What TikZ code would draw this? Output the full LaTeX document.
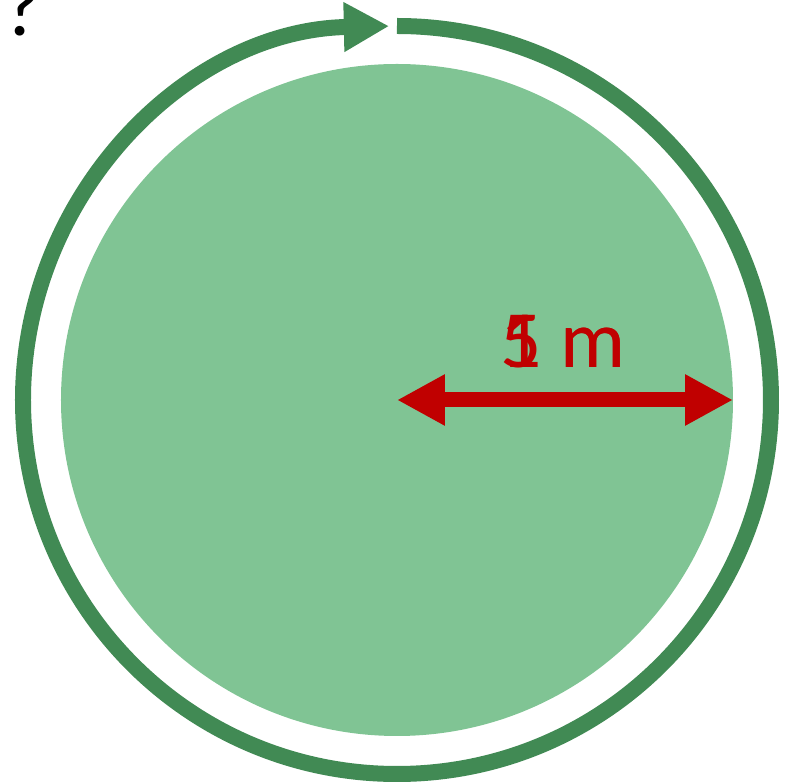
\documentclass[tikz,border=0pt]{standalone}
\usepackage{fontspec}
\setmainfont{Carlito}
\usetikzlibrary{arrows.meta}
\definecolor{discgreen}{RGB}{128,196,148}
\definecolor{ringgreen}{RGB}{65,138,84}
\definecolor{dimred}{RGB}{192,0,0}
\begin{document}
\begin{tikzpicture}[
    x=0.75pt, y=0.75pt,
    disc/.style={fill=discgreen, draw=none},
    ring/.style={draw=ringgreen, line width=12pt, -{Triangle[length=34pt, width=35pt]}},
    dimline/.style={draw=dimred, line width=11.25pt, {Triangle[length=36pt, width=36pt]}-{Triangle[length=36pt, width=36pt]}},
    lbl/.style={font=\fontsize{61}{70}\selectfont, inner sep=0pt}
]
\useasboundingbox (-397,-384) rectangle (393,400);
\coordinate (c) at (0,0);
\coordinate (e) at (336,0);
\fill[disc] (c) circle[radius=336];
\draw[ring] (90:374) arc[start angle=90, end angle=-268.8, radius=374];
\draw[dimline] (c) -- (e);
\node[lbl, text=dimred, anchor=base] (five) at (166,32) {5 m};
\node[lbl, text=dimred, anchor=base] (one) at (166,32) {1 m};
\node[lbl, anchor=base west] (q) at (-394,364) {?};
\end{tikzpicture}
\end{document}
